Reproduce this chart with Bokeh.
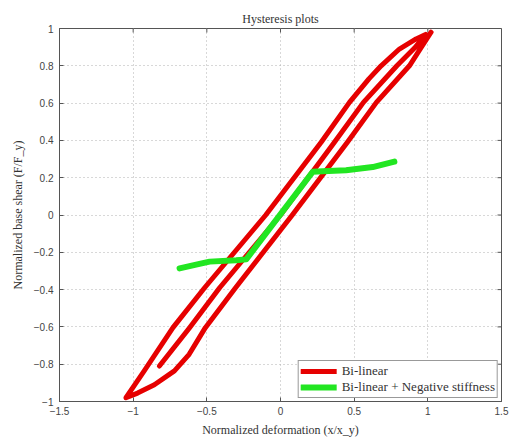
import math
from bokeh.plotting import figure
from bokeh.models import Range1d, FixedTicker, Legend, LegendItem
from bokeh.embed import file_html
from bokeh.resources import INLINE

# Bi-linear hysteresis path (normalized deformation, normalized base shear)
bilinear_x = [1.022, 0.94, 0.875, 0.651, 0.454, 0.08, -0.305, -0.51, -0.62, -0.72, -0.856, -0.97, -1.049,
              -0.985, -0.925, -0.73, -0.515, -0.10, 0.276, 0.468, 0.60, 0.683, 0.807, 0.92, 0.985,
              0.91, 0.79, 0.563, 0.366, 0.0, -0.413, -0.617, -0.822]
bilinear_y = [0.98, 0.88, 0.80, 0.604, 0.39, 0.0, -0.39, -0.604, -0.747, -0.836, -0.91, -0.955, -0.98,
              -0.905, -0.836, -0.604, -0.39, 0.0, 0.39, 0.604, 0.73, 0.80, 0.89, 0.944, 0.968,
              0.895, 0.80, 0.604, 0.39, 0.0, -0.39, -0.604, -0.81]

# Bi-linear + negative stiffness path
negstiff_x = [-0.685, -0.55, -0.481, -0.30, -0.233, 0.219, 0.287, 0.445, 0.626, 0.773]
negstiff_y = [-0.286, -0.262, -0.250, -0.243, -0.238, 0.232, 0.234, 0.240, 0.257, 0.286]

x_ticks = [-1.5, -1, -0.5, 0, 0.5, 1, 1.5]
y_ticks = [-1, -0.8, -0.6, -0.4, -0.2, 0, 0.2, 0.4, 0.6, 0.8, 1]

SERIF = "Liberation Serif"
SANS = "Liberation Sans"
AX = "#555555"

p = figure(width=509, height=445, output_backend="svg", toolbar_location=None,
           x_range=Range1d(-1.5, 1.5), y_range=Range1d(-1, 1),
           min_border_left=59, min_border_right=8, min_border_top=28, min_border_bottom=44,
           title="Hysteresis plots")
p.title.text_font = SERIF
p.title.text_font_size = "12px"
p.title.text_font_style = "normal"
p.title.text_color = "#333333"
p.title.align = "center"
p.title.offset = 0
p.title.standoff = 5

p.outline_line_color = AX
p.outline_line_width = 1

for ax in (p.xaxis[0], p.yaxis[0]):
    ax.major_tick_in = 4
    ax.major_tick_out = 0
    ax.minor_tick_in = 0
    ax.minor_tick_out = 0
    ax.axis_line_color = AX
    ax.major_tick_line_color = AX
    ax.major_label_text_font = SANS
    ax.major_label_text_font_size = "10px"
    ax.major_label_text_color = "#444444"
    ax.axis_label_text_font = SERIF
    ax.axis_label_text_font_size = "12px"
    ax.axis_label_text_font_style = "normal"
    ax.axis_label_text_color = "#333333"

p.xaxis.ticker = FixedTicker(ticks=x_ticks)
p.yaxis.ticker = FixedTicker(ticks=y_ticks)
p.xaxis.major_label_standoff = 5
p.yaxis.major_label_standoff = 6
p.xaxis.axis_label = "Normalized deformation (x/x_y)"
p.yaxis.axis_label = "Normalized base shear (F/F_y)"
p.xaxis.axis_label_standoff = 5
p.yaxis.axis_label_standoff = 6

# inward ticks on the top and right edges of the box
p.ray(x=x_ticks, y=[y_ticks[-1]] * len(x_ticks), length=4, length_units="screen",
      angle=-math.pi / 2, line_color=AX, line_width=1)
p.ray(x=[x_ticks[-1]] * len(y_ticks), y=y_ticks, length=4, length_units="screen",
      angle=math.pi, line_color=AX, line_width=1)

p.xgrid.ticker = FixedTicker(ticks=x_ticks)
p.ygrid.ticker = FixedTicker(ticks=y_ticks)
for g in (p.xgrid[0], p.ygrid[0]):
    g.grid_line_color = "#b0b0b0"
    g.grid_line_dash = "1 3"
    g.grid_line_width = 1

r1 = p.line(bilinear_x, bilinear_y, line_color="#e60000", line_width=5, line_join="round", line_cap="round")
r2 = p.line(negstiff_x, negstiff_y, line_color="#22e622", line_width=6, line_join="round", line_cap="round")

legend = Legend(items=[LegendItem(label="Bi-linear", renderers=[r1]),
                       LegendItem(label="Bi-linear + Negative stiffness", renderers=[r2])],
                location="bottom_right")
legend.margin = 3
legend.padding = 2
legend.spacing = 0
legend.glyph_width = 36
legend.glyph_height = 12
legend.label_height = 12
legend.label_standoff = 5
legend.label_text_font = SERIF
legend.label_text_font_size = "13px"
legend.label_text_color = "#333333"
legend.border_line_color = "#333333"
legend.border_line_width = 1
legend.background_fill_alpha = 1
p.add_layout(legend, "center")

open("out.html", "w").write(file_html(p, INLINE))
